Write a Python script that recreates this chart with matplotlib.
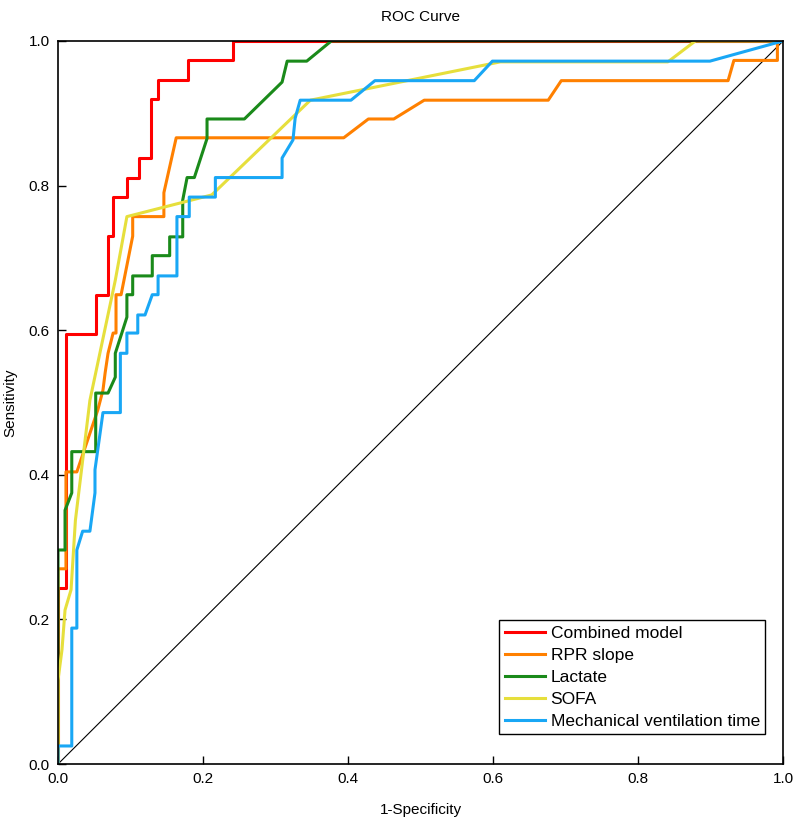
import matplotlib
matplotlib.use('Agg')
import matplotlib.pyplot as plt

plt.rcParams['font.family'] = ['Liberation Sans', 'DejaVu Sans']

# ROC points (1-Specificity, Sensitivity)
combined_fpr = [0, 0, 0.011, 0.011, 0.052, 0.052, 0.069, 0.069, 0.076, 0.076, 0.095, 0.095,
                0.112, 0.112, 0.128, 0.128, 0.138, 0.138, 0.179, 0.179, 0.241, 0.241, 1.0]
combined_tpr = [0, 0.243, 0.243, 0.595, 0.595, 0.649, 0.649, 0.730, 0.730, 0.784, 0.784, 0.811,
                0.811, 0.838, 0.838, 0.919, 0.919, 0.946, 0.946, 0.973, 0.973, 1.0, 1.0]

rpr_fpr = [0, 0, 0.011, 0.011, 0.026, 0.055, 0.062, 0.065, 0.069, 0.076, 0.080, 0.080, 0.087,
           0.103, 0.103, 0.146, 0.146, 0.163, 0.394, 0.428, 0.463, 0.505, 0.676, 0.694, 0.924,
           0.932, 0.992, 0.992, 1.0]
rpr_tpr = [0, 0.270, 0.270, 0.404, 0.404, 0.490, 0.517, 0.541, 0.568, 0.596, 0.596, 0.649, 0.649,
           0.730, 0.757, 0.757, 0.790, 0.866, 0.866, 0.892, 0.892, 0.918, 0.918, 0.945, 0.945,
           0.973, 0.973, 1.0, 1.0]

lactate_fpr = [0, 0, 0.0097, 0.0097, 0.019, 0.019, 0.052, 0.052, 0.069, 0.079, 0.079, 0.088, 0.095,
               0.095, 0.103, 0.103, 0.130, 0.130, 0.154, 0.154, 0.172, 0.172, 0.178, 0.188, 0.2055,
               0.2055, 0.257, 0.309, 0.316, 0.343, 0.377, 1.0]
lactate_tpr = [0, 0.296, 0.296, 0.351, 0.375, 0.432, 0.432, 0.513, 0.513, 0.535, 0.568, 0.596, 0.618,
               0.649, 0.649, 0.675, 0.675, 0.703, 0.703, 0.729, 0.729, 0.780, 0.811, 0.811, 0.865,
               0.892, 0.892, 0.943, 0.972, 0.972, 1.0, 1.0]

sofa_fpr = [0, 0, 0.0055, 0.0097, 0.018, 0.024, 0.044, 0.079, 0.095, 0.212, 0.348, 0.61, 0.841, 0.879, 1.0]
sofa_tpr = [0, 0.116, 0.158, 0.213, 0.241, 0.337, 0.503, 0.669, 0.757, 0.787, 0.918, 0.971, 0.971, 1.0, 1.0]

mv_fpr = [0, 0, 0.019, 0.019, 0.026, 0.026, 0.034, 0.044, 0.051, 0.051, 0.062, 0.086, 0.086, 0.095,
          0.095, 0.110, 0.110, 0.120, 0.130, 0.138, 0.138, 0.164, 0.164, 0.181, 0.181, 0.217, 0.217,
          0.309, 0.309, 0.324, 0.327, 0.334, 0.404, 0.437, 0.574, 0.599, 0.899, 1.0]
mv_tpr = [0, 0.025, 0.025, 0.188, 0.188, 0.296, 0.322, 0.322, 0.375, 0.407, 0.486, 0.486, 0.568, 0.568,
          0.596, 0.596, 0.621, 0.621, 0.649, 0.649, 0.675, 0.675, 0.757, 0.757, 0.784, 0.784, 0.811,
          0.811, 0.838, 0.863, 0.893, 0.918, 0.918, 0.945, 0.945, 0.972, 0.972, 1.0]

labels = ['Combined model', 'RPR slope', 'Lactate', 'SOFA', 'Mechanical ventilation time']
colors = ['#ff0000', '#ff8000', '#1a8a1a', '#e6df3c', '#19a7f5']

fig = plt.figure(figsize=(8, 8.26), dpi=100)
ax = fig.add_axes([0.0725, 0.075, 0.9065, 0.8755])

# reference line
ax.plot([0, 1], [0, 1], color='black', linewidth=0.8)

curves = [(combined_fpr, combined_tpr), (rpr_fpr, rpr_tpr), (lactate_fpr, lactate_tpr),
          (sofa_fpr, sofa_tpr), (mv_fpr, mv_tpr)]
for (fx, ty), lab, col in zip(curves, labels, colors):
    ax.plot(fx, ty, color=col, linewidth=2.2, label=lab)

ax.set_xlim(0, 1)
ax.set_ylim(0, 1)
ax.set_xticks([0, 0.2, 0.4, 0.6, 0.8, 1.0])
ax.set_yticks([0, 0.2, 0.4, 0.6, 0.8, 1.0])
ax.tick_params(direction='in', length=6, width=1, labelsize=11, pad=6)
for s in ax.spines.values():
    s.set_linewidth(1.2)
    s.set_color('black')

ax.set_title('ROC Curve', fontsize=11, pad=14)
ax.set_xlabel('1-Specificity', fontsize=11, labelpad=12)
ax.set_ylabel('Sensitivity', fontsize=11, labelpad=8)

leg = ax.legend(loc='lower right', bbox_to_anchor=(0.975, 0.041), fontsize=12.5, frameon=True,
                fancybox=False, framealpha=1, edgecolor='black', borderpad=0.3,
                labelspacing=0.4, handlelength=2.3, handletextpad=0.35, borderaxespad=0)
leg.get_frame().set_linewidth(1.0)

plt.savefig('out.png', dpi=100)
